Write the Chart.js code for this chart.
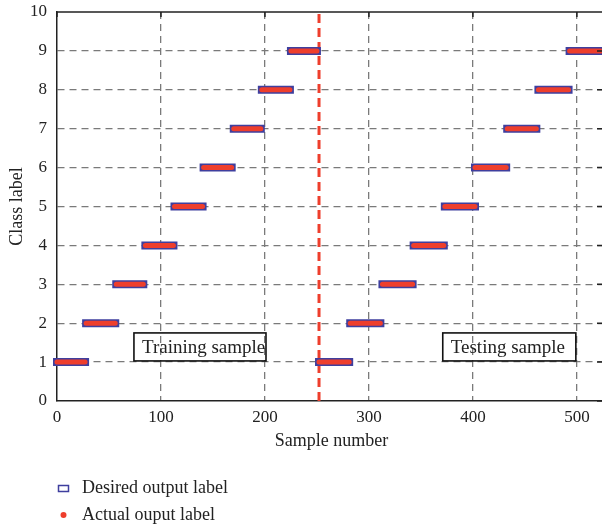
<!DOCTYPE html>
<html>
<head>
<meta charset="utf-8">
<script src="https://cdn.jsdelivr.net/npm/chart.js@4.4.0/dist/chart.umd.min.js"></script>
<style>
  html, body { margin: 0; padding: 0; background: #fff; overflow: hidden; }
  #wrap { width: 606px; height: 526px; }
</style>
</head>
<body>
<div id="wrap"><canvas id="classChart" width="606" height="526"></canvas></div>
<script>
// class of each segment and where it starts / ends (sample number)
const classLabels = [1, 2, 3, 4, 5, 6, 7, 8, 9];
const trainStart = [0, 28, 57, 85, 113, 141, 170, 197, 225];
const trainEnd   = [27, 56, 83, 112, 140, 168, 196, 224, 250];
const testStart  = [252, 282, 313, 343, 373, 402, 433, 463, 493];
const testEnd    = [281, 311, 342, 372, 402, 432, 461, 492, 523];
const splitSample = 252;
const xTicks = [0, 100, 200, 300, 400, 500];
const yTicks = [0, 1, 2, 3, 4, 5, 6, 7, 8, 9, 10];
const seriesNames = ['Desired output label', 'Actual ouput label'];

const serif = "'Liberation Serif', 'DejaVu Serif', serif";
const blue = '#3f3f9e';
const red = '#ee3e2c';

function segments() {
  const pts = [];
  classLabels.forEach((c, i) => {
    pts.push({x: trainStart[i], y: c}, {x: trainEnd[i], y: c}, {x: trainEnd[i] + 0.5, y: null});
  });
  classLabels.forEach((c, i) => {
    pts.push({x: testStart[i], y: c}, {x: testEnd[i], y: c}, {x: testEnd[i] + 0.5, y: null});
  });
  return pts;
}

// annotation boxes (data coords)
const notes = [
  {text: 'Training sample', x0: 74, x1: 201, y0: 1.03, y1: 1.75},
  {text: 'Testing sample', x0: 371, x1: 499, y0: 1.03, y1: 1.75}
];

const extras = {
  id: 'extras',
  afterDatasetsDraw(chart) {
    const {ctx, chartArea: a, scales: {x, y}} = chart;
    ctx.save();
    // top frame line and small inner ticks
    ctx.strokeStyle = '#222';
    ctx.lineWidth = 1.5;
    ctx.beginPath();
    ctx.moveTo(a.left, a.top); ctx.lineTo(a.right, a.top);
    xTicks.forEach(v => { const px = x.getPixelForValue(v); ctx.moveTo(px, a.top); ctx.lineTo(px, a.top + 5); });
    yTicks.forEach(v => { const py = y.getPixelForValue(v); ctx.moveTo(a.right, py); ctx.lineTo(a.right - 9, py); });
    ctx.stroke();

    // text boxes
    ctx.font = '19px ' + serif;
    ctx.textBaseline = 'middle';
    ctx.textAlign = 'left';
    notes.forEach(n => {
      const l = x.getPixelForValue(n.x0), r = x.getPixelForValue(n.x1);
      const t = y.getPixelForValue(n.y1), b = y.getPixelForValue(n.y0);
      ctx.fillStyle = '#222';
      ctx.fillText(n.text, l + 8, (t + b) / 2 + 1);
      ctx.strokeStyle = '#111';
      ctx.lineWidth = 1.6;
      ctx.strokeRect(l, t, r - l, b - t);
    });
    ctx.restore();
  },
  afterDraw(chart) {
    const {ctx} = chart;
    ctx.save();
    ctx.font = '18px ' + serif;
    ctx.textBaseline = 'middle';
    ctx.fillStyle = '#222';
    ctx.strokeStyle = blue;
    ctx.lineWidth = 1.5;
    ctx.strokeRect(58.5, 485.5, 10, 6);
    ctx.fillText(seriesNames[0], 82, 488);
    ctx.fillStyle = red;
    ctx.beginPath();
    ctx.arc(63.5, 515, 3, 0, Math.PI * 2);
    ctx.fill();
    ctx.fillStyle = '#222';
    ctx.fillText(seriesNames[1], 82, 515);
    ctx.restore();
  }
};

const gridColor = skip => ctx => skip.includes(ctx.tick.value) ? 'transparent' : '#7a7a7a';

new Chart(document.getElementById('classChart'), {
  type: 'line',
  data: {
    datasets: [
      {
        label: seriesNames[1],
        data: segments(),
        borderColor: red,
        borderWidth: 5,
        borderCapStyle: 'round',
        pointRadius: 0,
        spanGaps: false,
        clip: false,
        order: 0
      },
      {
        label: seriesNames[0],
        data: segments(),
        borderColor: blue,
        borderWidth: 8,
        borderCapStyle: 'square',
        pointRadius: 0,
        spanGaps: false,
        clip: false,
        order: 1
      },
      {
        label: 'split',
        data: [{x: splitSample, y: 0}, {x: splitSample, y: 10}],
        borderColor: red,
        borderWidth: 3,
        borderDash: [9, 5],
        pointRadius: 0,
        order: 2
      }
    ]
  },
  options: {
    responsive: false,
    animation: false,
    layout: { padding: { top: 12, bottom: 70, left: 0, right: 0 } },
    plugins: { legend: { display: false }, tooltip: { enabled: false } },
    scales: {
      x: {
        type: 'linear',
        min: 0,
        max: 528,
        afterBuildTicks: s => { s.ticks = xTicks.map(v => ({value: v})); },
        afterFit: s => { s.height = 55; },
        ticks: { font: { family: serif, size: 17 }, color: '#222', padding: 6, maxRotation: 0 },
        grid: { color: gridColor([0]), lineWidth: 1.3, drawTicks: false },
        border: { color: '#222', width: 1.5, dash: [7, 5] },
        title: { display: true, text: 'Sample number', font: { family: serif, size: 18 }, color: '#222', padding: { top: 0 } }
      },
      y: {
        min: 0,
        max: 10,
        afterBuildTicks: s => { s.ticks = yTicks.map(v => ({value: v})); },
        afterFit: s => { s.width = 57; s.paddingTop = 0; s.paddingBottom = 0; },
        ticks: { font: { family: serif, size: 17 }, color: '#222', padding: 10 },
        grid: { color: gridColor([0, 10]), lineWidth: 1.3, drawTicks: false },
        border: { color: '#222', width: 1.5, dash: [7, 5] },
        title: { display: true, text: 'Class label', font: { family: serif, size: 18 }, color: '#222', padding: { top: 6 } }
      }
    }
  },
  plugins: [extras]
});
</script>
</body>
</html>
